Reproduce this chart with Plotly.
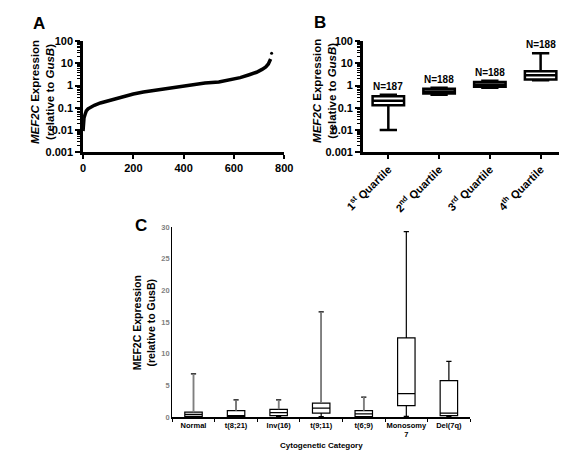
import plotly.graph_objects as go
import math

# ---------------- Data ----------------
# Panel A: sorted MEF2C expression by rank
rank = [0, 2, 4, 8, 13, 20, 31, 45, 69, 100, 132, 165, 200, 240, 283, 340,
        397, 440, 485, 540, 586, 625, 661, 690, 712, 727, 737, 742, 746]
expr = [0.009, 0.02, 0.036, 0.05, 0.072, 0.09, 0.107, 0.13, 0.166, 0.21, 0.275,
        0.33, 0.42, 0.52, 0.62, 0.76, 0.92, 1.1, 1.3, 1.45, 1.8, 2.3, 3.1, 4.0,
        5.4, 7.0, 9.5, 12.5, 16]
outlier_rank = [750]
outlier_expr = [29]
a_xticks = [0, 200, 400, 600, 800]
log_ticks = [0.001, 0.01, 0.1, 1, 10, 100]
log_ticktext = ["0.001", "0.01", "0.1", "1", "10", "100"]

# Panel B: quartile groups
quart_labels = ["1<sup>st</sup> Quartile", "2<sup>nd</sup> Quartile",
                "3<sup>rd</sup> Quartile", "4<sup>th</sup> Quartile"]
q_low = [0.010, 0.39, 0.81, 1.75]
q_q1 = [0.13, 0.44, 0.90, 1.9]
q_med = [0.21, 0.54, 1.1, 2.9]
q_q3 = [0.33, 0.72, 1.45, 4.4]
q_high = [0.39, 0.81, 1.64, 29]
n_labels = ["N=187", "N=188", "N=188", "N=188"]

# Panel C: cytogenetic categories
cyto_cats = ["Normal", "t(8;21)", "Inv(16)", "t(9;11)", "t(6;9)", "Monosomy<br>7", "Del(7q)"]
c_low = [0.0, 0.0, 0.05, 0.05, 0.0, 0.1, 0.1]
c_q1 = [0.1, 0.05, 0.2, 0.62, 0.05, 1.8, 0.2]
c_med = [0.4, 0.2, 0.67, 1.4, 0.5, 3.7, 0.62]
c_q3 = [0.75, 1.0, 1.2, 2.2, 1.0, 12.5, 5.75]
c_high = [6.8, 2.7, 2.7, 16.6, 3.15, 29.3, 8.8]
c_yticks = [0, 5, 10, 15, 20, 25, 30]

# ---------------- Layout helpers ----------------
W, H = 567, 450
FONT = "Liberation Sans, Arial, sans-serif"


def px_x(p):
    return p / W


def px_y(p):
    return 1 - p / H


fig = go.Figure()

# Panel A curve
fig.add_trace(go.Scatter(x=rank, y=expr, mode="lines",
                         line=dict(color="black", width=3.5),
                         xaxis="x", yaxis="y", showlegend=False))
fig.add_trace(go.Scatter(x=outlier_rank, y=outlier_expr, mode="markers",
                         marker=dict(color="black", size=3),
                         xaxis="x", yaxis="y", showlegend=False))

# Panel B boxes
fig.add_trace(go.Box(x=quart_labels, q1=q_q1, median=q_med, q3=q_q3,
                     lowerfence=q_low, upperfence=q_high,
                     fillcolor="white", line=dict(color="black", width=2.5),
                     whiskerwidth=0.55, width=0.62, boxpoints=False,
                     xaxis="x2", yaxis="y2", showlegend=False))

# Panel C boxes
fig.add_trace(go.Box(x=cyto_cats, q1=c_q1, median=c_med, q3=c_q3,
                     lowerfence=c_low, upperfence=c_high,
                     fillcolor="white", line=dict(color="black", width=1.2),
                     whiskerwidth=0.3, width=0.41, boxpoints=False,
                     xaxis="x3", yaxis="y3", showlegend=False))

# gray upper whiskers for the first five categories
wx, wy = [], []
for i in range(5):
    wx += [cyto_cats[i], cyto_cats[i], None]
    wy += [c_q3[i], c_high[i], None]
fig.add_trace(go.Scatter(x=wx, y=wy, mode="lines",
                         line=dict(color="#7f7f7f", width=1.6),
                         xaxis="x3", yaxis="y3", showlegend=False, hoverinfo="skip"))

bold11 = dict(family=FONT, size=11, color="black", weight="bold")

fig.update_layout(
    width=W, height=H,
    margin=dict(l=0, r=0, t=0, b=0),
    paper_bgcolor="white", plot_bgcolor="white",
    font=dict(family=FONT, color="black"),
    showlegend=False,
    xaxis=dict(domain=[px_x(58), px_x(270)], range=[0, 800], tickvals=a_xticks,
               showline=True, linecolor="black", linewidth=2.5, ticks="outside",
               ticklen=4, tickwidth=2, tickcolor="black", tickfont=bold11,
               showgrid=False, zeroline=False, anchor="y", tickangle=0),
    yaxis=dict(domain=[px_y(142), px_y(28)], type="log", range=[-3, 2],
               tickvals=log_ticks, ticktext=log_ticktext,
               showline=True, linecolor="black", linewidth=2.5, ticks="outside",
               ticklen=5, tickwidth=2, tickcolor="black", tickfont=bold11,
               minor=dict(ticks="outside", ticklen=3, tickwidth=1, tickcolor="black", dtick="D1"),
               showgrid=False, zeroline=False, anchor="x"),
    xaxis2=dict(domain=[px_x(353), 1.0], range=[-0.5, 3.5], type="category",
                showline=True, linecolor="black", linewidth=2.5, ticks="outside",
                ticklen=4, tickwidth=2, tickcolor="black", tickfont=bold11,
                tickangle=-45, showgrid=False, zeroline=False, anchor="y2"),
    yaxis2=dict(domain=[px_y(142), px_y(28)], type="log", range=[-3, 2],
                tickvals=log_ticks, ticktext=log_ticktext,
                showline=True, linecolor="black", linewidth=2.5, ticks="outside",
                ticklen=5, tickwidth=2, tickcolor="black", tickfont=bold11,
                minor=dict(ticks="outside", ticklen=3, tickwidth=1, tickcolor="black", dtick="D1"),
                showgrid=False, zeroline=False, anchor="x2"),
    xaxis3=dict(domain=[px_x(152), px_x(466)], range=[-0.5, 6.5], type="category",
                showline=True, linecolor="black", linewidth=1.5, ticks="outside",
                tickson="boundaries", ticklen=3, tickwidth=1, tickcolor="black",
                tickangle=0,
                tickfont=dict(family=FONT, size=7.5, color="black", weight="bold"),
                showgrid=False, zeroline=False, anchor="y3"),
    yaxis3=dict(domain=[px_y(414), px_y(219)], range=[0, 30], tickvals=c_yticks,
                showline=True, linecolor="black", linewidth=1.2, ticks="",
                tickfont=dict(family=FONT, size=7.5, color="#7f7f7f", weight="bold"),
                showgrid=False, zeroline=False, anchor="x3"),
)

annotations = [
    dict(text="<b>A</b>", x=px_x(12), y=px_y(10), font=dict(family=FONT, size=17, color="black")),
    dict(text="<b>B</b>", x=px_x(308), y=px_y(9), font=dict(family=FONT, size=17, color="black")),
    dict(text="<b>C</b>", x=px_x(119), y=px_y(217), font=dict(family=FONT, size=17, color="black")),
    dict(text="<b><i>MEF2C</i> Expression<br>(relative to <i>GusB</i>)</b>", x=px_x(16), y=px_y(80),
         textangle=-90, font=dict(family=FONT, size=11.5, color="black")),
    dict(text="<b><i>MEF2C</i> Expression<br>(relative to <i>GusB</i>)</b>", x=px_x(313), y=px_y(79),
         textangle=-90, font=dict(family=FONT, size=11.5, color="black")),
    dict(text="<b>MEF2C Expression<br>(relative to GusB)</b>", x=px_x(122), y=px_y(317),
         textangle=-90, font=dict(family=FONT, size=10.5, color="black")),
    dict(text="<b>Cytogenetic Category</b>", x=px_x(309), y=px_y(443),
         font=dict(family=FONT, size=8, color="black")),
]
for a in annotations:
    a.update(xref="paper", yref="paper", showarrow=False, xanchor="center", yanchor="middle")

for lab, hi, n in zip(quart_labels, q_high, n_labels):
    annotations.append(dict(text="<b>" + n + "</b>", x=lab, y=math.log10(hi),
                            xref="x2", yref="y2", showarrow=False,
                            xanchor="center", yanchor="bottom", yshift=1,
                            font=dict(family=FONT, size=10, color="black")))

fig.update_layout(annotations=annotations)

fig.write_html("out.html")
